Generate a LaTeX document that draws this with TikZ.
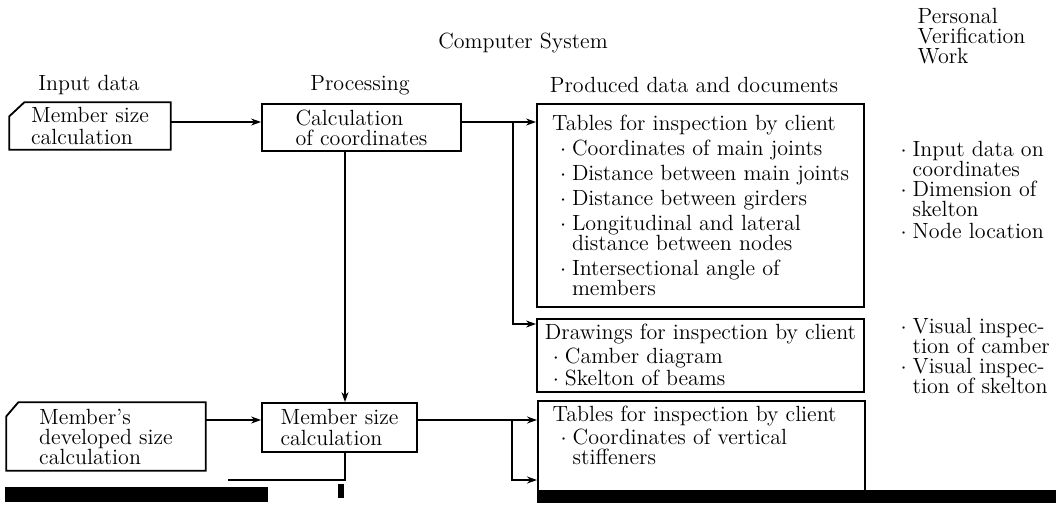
\documentclass[tikz,border=0pt]{standalone}
\usetikzlibrary{positioning}
\usetikzlibrary{arrows.meta}

% bullet items: the dot, an indented dot, and the indent of a second line
\newcommand{\dotm}{\makebox[6pt][l]{$\cdot$}}
\newcommand{\bul}{\hspace*{4pt}\dotm}
\newcommand{\cont}{\hspace*{10pt}}

\begin{document}
\begin{tikzpicture}[
x=0.5pt, y=-0.5pt,
docbox/.style={
	% The shape:
	rectangle,
	% The border:
	draw=black, line width=0.9pt,
	% The text:
	align=left, inner sep=0pt},
inbox/.style={
	% The shape: the border is drawn by hand (cut corner)
	rectangle,
	% The text:
	align=left, inner sep=0pt},
cardline/.style={draw=black, line width=0.9pt},
every node/.style={font=\fontsize{11}{10}\selectfont},
>={Stealth[length=5pt,width=3.5pt]}, line width=0.7pt,
]
\useasboundingbox (0,0) rectangle (1056,505);

% column heads
\node (sys) at (523,43) {Computer System};
\node (inhd) at (89,85) {Input data};
\node (prhd) at (360,85) {Processing};
\node (ouhd) at (694,85) {Produced data and documents};
\node (pvhd) [anchor=north west, align=left, inner sep=0pt] at (917,8) {Personal\\Verification\\Work};

% first row
\node (inA) [inbox, minimum width=80pt, minimum height=23pt] at (90,126) {Member size\\[1pt]calculation};
\draw[cardline] ([xshift=7.5pt]inA.north west) -- (inA.north east) -- (inA.south east)
	-- (inA.south west) -- ([yshift=-7pt]inA.north west) -- cycle;
\node (procA) [docbox, minimum width=99.5pt, minimum height=23.5pt] at (361.5,127.5) {Calculation\\of coordinates};
\node (tab1) [docbox, minimum width=163.5pt, minimum height=101.5pt] at (700.5,205.5) {Tables for inspection by client\\[2.5pt]
	\bul Coordinates of main joints\\[2.5pt]
	\bul Distance between main joints\\[2.5pt]
	\bul Distance between girders\\[2.5pt]
	\bul Longitudinal and lateral\\
	\cont distance between nodes\\[2.5pt]
	\bul Intersectional angle of\\
	\cont members};
\node (draw1) [docbox, minimum width=163.5pt, minimum height=36.5pt, below=5pt of tab1] {Drawings for inspection by client\\[2pt]
	\bul Camber diagram\\[1pt]
	\bul Skelton of beams};

% second row
\node (inB) [inbox, minimum width=99pt, minimum height=33.5pt] at (106,436.5) {Member's\\developed size\\calculation};
\draw[cardline] ([xshift=6pt]inB.north west) -- (inB.north east) -- (inB.south east)
	-- (inB.south west) -- ([yshift=-7pt]inB.north west) -- cycle;
\node (procB) [docbox, minimum width=77.5pt, minimum height=24.5pt] at (339.5,427.5) {Member size\\[0.5pt]calculation};
\node (tabB) [docbox, minimum width=163.5pt, minimum height=45.5pt, anchor=north west] at (537,400) {};
\node (tabBtext) [anchor=north west, align=left, inner sep=0pt] at (552,405) {Tables for inspection by client\\[1.5pt]
	\bul Coordinates of vertical\\
	\cont stiffeners};

% personal verification work
\node (verA) [anchor=north west, align=left, inner sep=0pt] at (900,141) {\dotm Input data on\\
	\hspace*{6pt}coordinates\\
	\dotm Dimension of\\
	\hspace*{6pt}skelton\\[1pt]
	\dotm Node location};
\node (verB) [anchor=north west, align=left, inner sep=0pt] at (900,318) {\dotm Visual inspec-\\
	\hspace*{6pt}tion of camber\\
	\dotm Visual inspec-\\
	\hspace*{6pt}tion of skelton};

% connectors
\coordinate (rowA) at (0,122);
\coordinate (splitA) at (513,122);
\coordinate (rowD) at (0,324);
\coordinate (colP) at (345,0);
\coordinate (rowB) at (0,420);
\coordinate (splitB) at (512,420);
\coordinate (rowE) at (0,480);
\coordinate (sketchEnd) at (228,480);
\draw[->] (inA.east |- rowA) -- (procA.west |- rowA);
\draw[->] (procA.east |- rowA) -- (tab1.west |- rowA);
\draw[->] (splitA) |- (draw1.west |- rowD);
\draw[->] (procA.south -| colP) -- (procB.north -| colP);
\draw[->] (inB.east |- rowB) -- (procB.west |- rowB);
\draw[->] (procB.east |- rowB) -- (tabB.west |- rowB);
\draw[->] (splitB) |- (tabB.west |- rowE);
\draw (procB.south -| colP) |- (sketchEnd);

% torn bottom edge of the scan
\fill (5,487) rectangle (268,502);
\fill (338,484) rectangle (344,498);
\fill (537,490) rectangle (1056,503);
\end{tikzpicture}
\end{document}
